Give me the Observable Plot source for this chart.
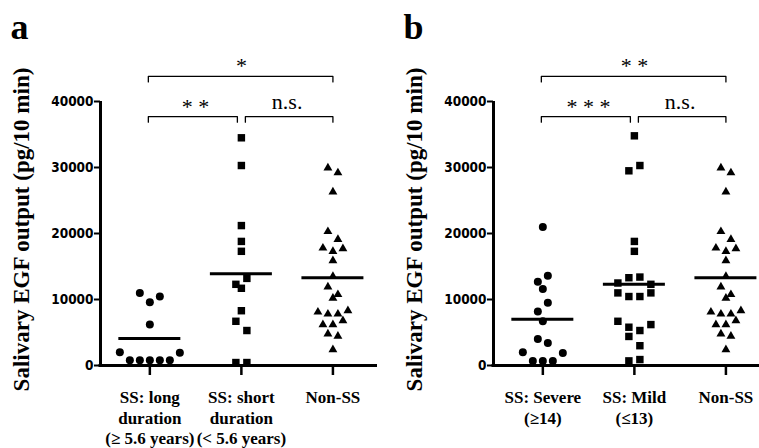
<!DOCTYPE html>
<html><head><meta charset="utf-8">
<script src="https://cdn.jsdelivr.net/npm/d3@7"></script>
<script src="https://cdn.jsdelivr.net/npm/@observablehq/plot@0.6"></script>
<style>
html,body{margin:0;padding:0;background:#fff;}
#wrap{position:relative;width:759px;height:448px;overflow:hidden;background:#fff;}
.panel{position:absolute;top:0;width:393px;height:448px;}
.panel svg{max-width:none !important;width:393px;height:448px;}
</style></head><body><div id="wrap"></div>
<script>
// ---------- data ----------
const yTicks = [0, 10000, 20000, 30000, 40000];
const yLabel = "Salivary EGF output (pg/10 min)";

const catsA = ["SS: long\nduration\n(≥ 5.6 years)", "SS: short\nduration\n(< 5.6 years)", "Non-SS"];
const catsB = ["SS: Severe\n(≥14)", "SS: Mild\n(≤13)", "Non-SS"];
const symbols = ["circle", "square", "triangle"];

// panel a
const longDuration = [11000, 9600, 10450, 6200, 2000, 800, 800, 800, 800, 800, 1950];
const shortDuration = [34500, 30300, 21200, 17300, 18800, 12300, 11700, 13200, 8300, 6700, 5300, 450, 450];
const nonSS = [29950, 29200, 26300, 20300, 19100, 17800, 17300, 17700, 15900, 13500, 11900, 10750, 10200,
               8100, 7800, 7800, 8300, 6200, 6200, 6800, 4800, 4450, 2400];
// panel b
const severe = [21000, 12700, 13600, 11600, 8200, 9500, 6700, 4000, 3400, 2000, 700, 700, 700, 1900];
const mild = [34800, 29500, 30300, 18800, 17300, 12500, 13300, 13400, 12300, 11000, 10450, 10450, 11000,
              6700, 5800, 5300, 6200, 4400, 3000, 700, 900];

const meansA = [4100, 13900, 13300];
const meansB = [7000, 12300, 13300];

// significance brackets
const bracketFromA = [0, 0, 1], bracketToA = [2, 1, 2], bracketTierA = [2, 1, 1];
const bracketLabelA = ["*", "* *", "n.s."];
const bracketFromB = [0, 0, 1], bracketToB = [2, 1, 2], bracketTierB = [2, 1, 1];
const bracketLabelB = ["* *", "* * *", "n.s."];

// ---------- layout ----------
const W = 393, H = 448, mL = 100, mR = 16, mT = 101, mB = 83;
const xDomain = [-0.539, 2.487];
const kx = (W - mL - mR) / (xDomain[1] - xDomain[0]);
const ky = (H - mT - mB) / 40000;
const spacing = [10, 11, 10];
const radius = [4, 4.2, 3.3];
const tierY = {1: 37700, 2: 43800};
const drop = 5.5 / ky;
const serif = "'Liberation Serif', 'Times New Roman', serif";
const narrow = "'Liberation Sans Narrow', 'Arial Narrow', 'DejaVu Sans Condensed', 'Liberation Sans', sans-serif";

// Prism-like row layout: points within one symbol height form a centred row
function swarm(values, T, s) {
  const idx = d3.range(values.length).sort((a, b) => values[b] - values[a] || a - b);
  const off = new Array(values.length);
  let i = 0;
  while (i < idx.length) {
    const top = values[idx[i]];
    let j = i;
    while (j < idx.length && top - values[idx[j]] < T) j++;
    const row = idx.slice(i, j).sort((a, b) => a - b);
    row.forEach((k, r) => off[k] = (r - (row.length - 1) / 2) * s);
    i = j;
  }
  return off;
}

function panel(letter, cats, groups, means, bFrom, bTo, bTier, bLabel) {
  const pts = [];
  groups.forEach((vals, g) => {
    const off = swarm(vals, 1500, spacing[g]);
    vals.forEach((v, k) => pts.push({g, v, x: g + off[k] / kx}));
  });
  const gap = 4 / kx;
  const brackets = bFrom.map((f, i) => {
    const t = bTo[i], lvl = tierY[bTier[i]];
    const sharedL = bFrom.some((f2, j) => j !== i && bTier[j] === bTier[i] && bTo[j] === f);
    const sharedR = bFrom.some((f2, j) => j !== i && bTier[j] === bTier[i] && f2 === t);
    const x1 = f + (sharedL ? gap : -1.5 / kx), x2 = t - (sharedR ? gap : 0);
    return {i, x1, x2, lvl, label: bLabel[i], mid: (f + t) / 2};
  });
  const bPts = brackets.flatMap(b => [
    {id: b.i, x: b.x1, y: b.lvl - drop}, {id: b.i, x: b.x1, y: b.lvl},
    {id: b.i, x: b.x2, y: b.lvl}, {id: b.i, x: b.x2, y: b.lvl - drop}
  ]);
  const half = 31 / kx;
  return Plot.plot({
    width: W, height: H, marginLeft: mL, marginRight: mR, marginTop: mT, marginBottom: mB,
    x: {domain: xDomain},
    y: {domain: [0, 40000]},
    style: {background: "white", color: "black", overflow: "visible"},
    marks: [
      Plot.ruleX([xDomain[0]], {y1: -1.5 / ky, y2: 40000, strokeWidth: 3}),
      Plot.ruleY([0], {x1: xDomain[0] - 1.5 / kx, x2: xDomain[1], strokeWidth: 3}),
      Plot.axisY({ticks: yTicks, tickFormat: d3.format("d"), tickSize: 6, tickPadding: 1, strokeWidth: 2,
        fontSize: 13.5, fontWeight: "bold", fontFamily: narrow, label: null}),
      Plot.axisX({ticks: [0, 1, 2], tickFormat: i => cats[i], tickSize: 10, tickPadding: 13.5, strokeWidth: 2.5,
        fontSize: 17, fontWeight: "bold", fontFamily: serif, lineHeight: 1.2, label: null}),
      ...groups.map((vals, g) => Plot.dot(pts.filter(d => d.g === g),
        {x: "x", y: "v", symbol: symbols[g], r: radius[g], fill: "black", stroke: "none"})),
      Plot.ruleY(means.map((m, i) => ({i, m})), {y: "m", x1: d => d.i - half, x2: d => d.i + half, strokeWidth: 3}),
      Plot.line(bPts, {x: "x", y: "y", z: "id", stroke: "black", strokeWidth: 1.3}),
      Plot.text(brackets.filter(b => b.label.startsWith("*")), {x: "mid", y: "lvl", text: "label",
        lineAnchor: "bottom", dy: -3, fontSize: 22, fontFamily: serif}),
      Plot.text(brackets.filter(b => !b.label.startsWith("*")), {x: "mid", y: "lvl", text: "label",
        lineAnchor: "bottom", dy: -8, fontSize: 22, fontFamily: serif}),
      Plot.text([yLabel], {frameAnchor: "left", textAnchor: "middle", rotate: -90, dx: -79, dy: -4, fontSize: 23,
        fontWeight: "bold", fontFamily: serif}),
      Plot.text([letter], {frameAnchor: "top-left", textAnchor: "start", lineAnchor: "bottom",
        dx: -90, dy: -63, fontSize: 36, fontWeight: "bold", fontFamily: serif})
    ]
  });
}

const wrap = document.getElementById("wrap");
const a = panel("a", catsA, [longDuration, shortDuration, nonSS], meansA,
  bracketFromA, bracketToA, bracketTierA, bracketLabelA);
const b = panel("b", catsB, [severe, mild, nonSS], meansB,
  bracketFromB, bracketToB, bracketTierB, bracketLabelB);
[a, b].forEach((svg, i) => {
  const d = document.createElement("div");
  d.className = "panel";
  d.style.left = (i * 393) + "px";
  d.appendChild(svg);
  wrap.appendChild(d);
});
</script>
</body></html>
